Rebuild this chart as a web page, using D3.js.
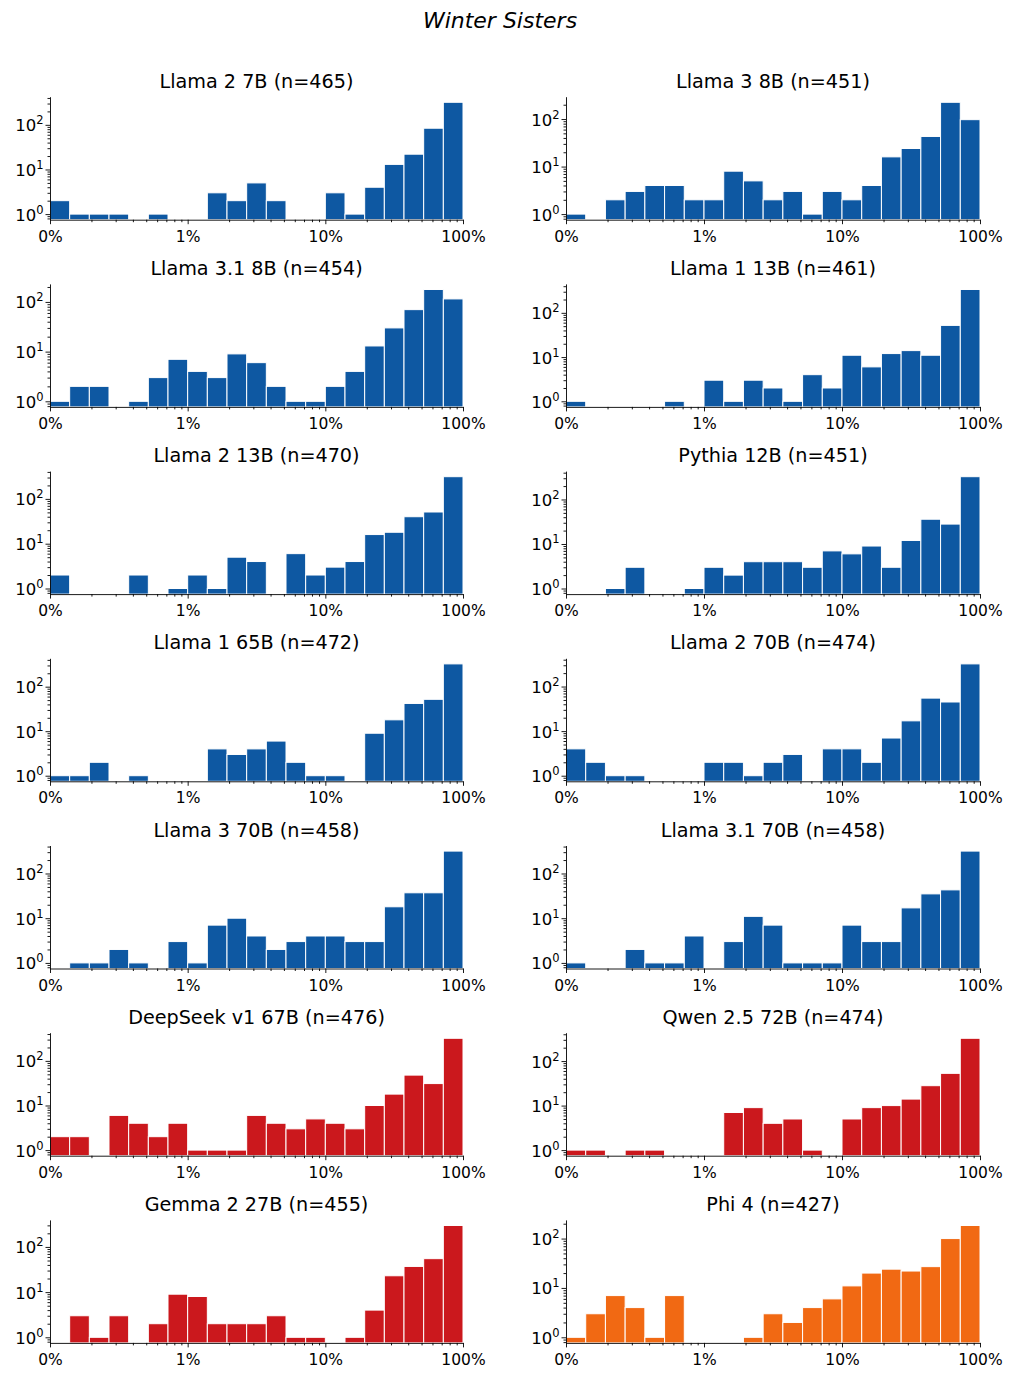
<!DOCTYPE html>
<html><head><meta charset="utf-8">
<script src="https://cdn.jsdelivr.net/npm/d3@7"></script>
<style>body{margin:0;background:#fff}</style>
</head><body>
<svg id="chart" width="1013" height="1378"></svg>
<script>
// ---- data ----
const chartTitle = "Winter Sisters";
const titles = ["Llama 2 7B","Llama 3 8B","Llama 3.1 8B","Llama 1 13B","Llama 2 13B","Pythia 12B",
  "Llama 1 65B","Llama 2 70B","Llama 3 70B","Llama 3.1 70B","DeepSeek v1 67B","Qwen 2.5 72B","Gemma 2 27B","Phi 4"];
const nValues = [465,451,454,461,470,451,472,474,458,458,476,474,455,427];
const llama2_7b   = [2,1,1,1,0,1,0,0,3,2,5,2,0,0,3,1,4,13,22,84,320];
const llama3_8b   = [1,0,2,3,4,4,2,2,8,5,2,3,1,3,2,4,16,24,43,225,97];
const llama31_8b  = [1,2,2,0,1,3,7,4,3,9,6,2,1,1,2,4,13,30,70,178,115];
const llama1_13b  = [1,0,0,0,0,1,0,3,1,3,2,1,4,2,11,6,12,14,11,52,337];
const llama2_13b  = [2,0,0,0,2,0,1,2,1,5,4,0,6,2,3,4,16,18,40,51,313];
const pythia_12b  = [0,0,1,3,0,0,1,3,2,4,4,4,3,7,6,9,3,12,36,28,325];
const llama1_65b  = [1,1,2,0,1,0,0,0,4,3,4,6,2,1,1,0,9,18,42,52,325];
const llama2_70b  = [4,2,1,1,0,0,0,2,2,1,2,3,0,4,4,2,7,17,55,45,322];
const llama3_70b  = [0,1,1,2,1,0,3,1,7,10,4,2,3,4,4,3,3,18,37,37,317];
const llama31_70b = [1,0,0,2,1,1,4,0,3,11,7,1,1,1,7,3,3,17,35,43,317];
const deepseek_67b= [2,2,0,6,4,2,4,1,1,1,6,4,3,5,4,3,10,18,48,31,321];
const qwen25_72b  = [1,1,0,1,1,0,0,0,7,9,4,5,1,0,5,9,10,14,28,53,325];
const gemma2_27b  = [0,3,1,3,0,2,9,8,2,2,2,3,1,1,0,1,4,23,37,55,298];
const phi4        = [1,3,7,4,1,7,0,0,0,1,3,2,4,6,11,20,24,22,27,100,184];
const seriesList = [llama2_7b,llama3_8b,llama31_8b,llama1_13b,llama2_13b,pythia_12b,llama1_65b,
  llama2_70b,llama3_70b,llama31_70b,deepseek_67b,qwen25_72b,gemma2_27b,phi4];
const colorGroup = ["blue","blue","blue","blue","blue","blue","blue","blue","blue","blue","red","red","red","orange"];
const palette = {blue:"#0e58a2", red:"#cb181d", orange:"#f16913"};
const xTickValues = [0.001, 0.01, 0.1, 1];
const xTickLabels = ["0%","1%","10%","100%"];
const yTickValues = [1, 10, 100];
const yTickExponents = ["0","1","2"];
const binsPerDecade = 7, binCount = 21;

// ---- layout ----
const svg = d3.select("#chart");
const font = "DejaVu Sans, sans-serif";
const colX = [50, 566], colW = [413, 414];
const H = 123, firstBottom = 219.7, rowStep = 187.2;
const binEdges = d3.range(binCount + 1).map(i => Math.pow(10, -3 + i / binsPerDecade));

svg.append("text").attr("x", 500).attr("y", 28).attr("text-anchor", "middle")
  .attr("font-family", font).attr("font-size", 22).attr("font-style", "italic").text(chartTitle);

function minorTicks(lo, hi) {
  const out = [];
  for (let e = -4; e <= 4; e++) for (let m = 2; m <= 9; m++) {
    const v = m * Math.pow(10, e);
    if (v > lo && v < hi) out.push(v);
  }
  return out;
}

seriesList.forEach((counts, k) => {
  const row = Math.floor(k / 2), col = k % 2;
  const W = colW[col];
  const top = firstBottom + rowStep * row - H;
  const g = svg.append("g").attr("transform", `translate(${colX[col]},${top})`);
  const x = d3.scaleLog().domain([0.001, 1]).range([0, W]);
  const L = Math.log10(d3.max(counts));
  const y = d3.scaleLog().domain([Math.pow(10, -0.05 * L), Math.pow(10, 1.05 * L)]).range([H, 0]);
  const bars = counts.map((c, i) => ({c, x0: binEdges[i], x1: binEdges[i + 1]})).filter(d => d.c > 0);
  g.selectAll("rect").data(bars).join("rect")
    .attr("x", d => x(d.x0)).attr("width", d => x(d.x1) - x(d.x0))
    .attr("y", d => y(d.c)).attr("height", d => H - y(d.c))
    .attr("fill", palette[colorGroup[k]]).attr("stroke", "#fff").attr("stroke-width", 1);

  // x axis
  const xa = g.append("g").attr("transform", `translate(0,${H})`)
    .call(d3.axisBottom(x).tickValues(xTickValues).tickFormat((d, i) => xTickLabels[i])
      .tickSize(4.5).tickSizeOuter(0).tickPadding(6.5));
  const xm = g.append("g").attr("transform", `translate(0,${H})`)
    .call(d3.axisBottom(x).tickValues(minorTicks(0.001, 1)).tickFormat("").tickSize(2.5).tickSizeOuter(0));
  xm.select(".domain").remove();

  // y axis
  const [ylo, yhi] = y.domain();
  const ya = g.append("g")
    .call(d3.axisLeft(y).tickValues(yTickValues.filter(v => v >= ylo && v <= yhi)).tickFormat("")
      .tickSize(4.5).tickSizeOuter(0));
  const ym = g.append("g")
    .call(d3.axisLeft(y).tickValues(minorTicks(ylo, yhi)).tickFormat("").tickSize(2.5).tickSizeOuter(0));
  ym.select(".domain").remove();
  yTickValues.forEach((v, i) => {
    if (v < ylo || v > yhi) return;
    const t = g.append("text").attr("x", -6.5).attr("y", y(v) + 6.5).attr("text-anchor", "end")
      .attr("font-family", font).attr("font-size", 16.5).attr("fill", "#000");
    t.append("tspan").text("10");
    t.append("tspan").attr("dy", -7).attr("font-size", 11.5).text(yTickExponents[i]);
  });

  [xa, xm, ya, ym].forEach(a => {
    a.selectAll("path.domain").attr("stroke", "#000").attr("stroke-width", 0.9);
    a.selectAll(".tick line").attr("stroke", "#000").attr("stroke-width", 0.9);
    a.selectAll(".tick text").attr("font-family", font).attr("font-size", 15.5).attr("fill", "#000");
  });

  svg.append("text").attr("x", colX[col] + W / 2).attr("y", top - 9).attr("text-anchor", "middle")
    .attr("font-family", font).attr("font-size", 19.2).attr("fill", "#000")
    .text(`${titles[k]} (n=${nValues[k]})`);
});
</script>
</body></html>
